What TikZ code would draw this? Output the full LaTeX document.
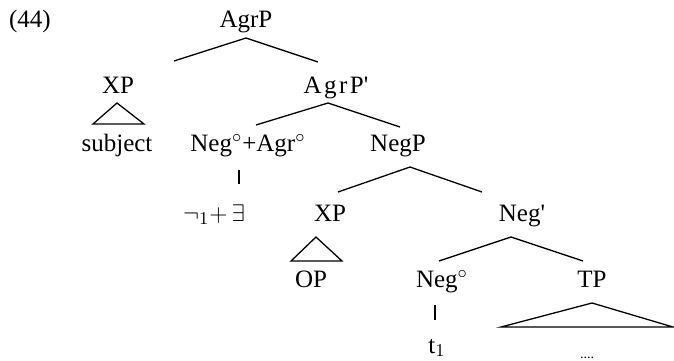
\documentclass[tikz,border=0pt]{standalone}
\usepackage{fontspec}
\setmainfont{Liberation Serif}
\usetikzlibrary{calc}

\begin{document}
\begin{tikzpicture}[x=0.5pt,y=-0.5pt,
    lbl/.style={anchor=base,inner sep=0pt,font=\fontsize{12.5}{14}\selectfont},
    branch/.style={line width=0.65pt}]
    \useasboundingbox (0,0) rectangle (674,360);

    % Place the labels of the tree
    \node[lbl] (num) at (30,27) {(44)};
    \node[lbl] (agrp) at (246,27) {AgrP};
    \node[lbl] (xpa) at (118,93) {XP};
    \node[lbl] (agrbar) at (336,93) {\addfontfeature{LetterSpace=10}AgrP\textquotesingle};
    \node[lbl] (subj) at (117,151) {subject};
    \node[lbl] (negagr) at (248,151) {Neg$^{\circ}$+Agr$^{\circ}$};
    \node[lbl] (negp) at (398,151) {NegP};
    \node[lbl] (negex) at (214,221) {$\neg_1{+}\,\exists$};
    \node[lbl] (xpb) at (330,221) {XP};
    \node[lbl] (negbar) at (522,221) {Neg\textquotesingle};
    \node[lbl] (op) at (311,287) {OP};
    \node[lbl] (neg) at (442,287) {Neg$^{\circ}$};
    \node[lbl] (tp) at (592,287) {TP};
    \node[lbl] (trace) at (437,353) {t$_1$};
    \node[lbl,font=\fontsize{7}{8}\selectfont] (dots) at (587,358) {....};

    % Define the ends of the branches
    \coordinate (agrp-t) at (246,38);
    \coordinate (agrp-l) at (174,61);
    \coordinate (agrp-r) at (318,62);
    \coordinate (agrbar-t) at (328,103);
    \coordinate (agrbar-l) at (256,125);
    \coordinate (agrbar-r) at (400,127);
    \coordinate (negp-t) at (410,167);
    \coordinate (negp-l) at (338,192);
    \coordinate (negp-r) at (482,192);
    \coordinate (negbar-t) at (511,237);
    \coordinate (negbar-l) at (439,261);
    \coordinate (negbar-r) at (583,261);
    \coordinate (negagr-a) at (239,170);
    \coordinate (negagr-b) at (239,184);
    \coordinate (neg-a) at (435,305);
    \coordinate (neg-b) at (435,320);

    % Define the corners of the triangles
    \coordinate (xpa-t) at (117,103);
    \coordinate (xpa-l) at (93,124);
    \coordinate (xpa-r) at (144,124);
    \coordinate (xpb-t) at (316,237);
    \coordinate (xpb-l) at (291,261);
    \coordinate (xpb-r) at (342,261);
    \coordinate (tp-t) at (592,303);
    \coordinate (tp-l) at (501,327);
    \coordinate (tp-r) at (673,327);

    % Draw the branches
    \draw[branch] (agrp-l) -- (agrp-t) -- (agrp-r);
    \draw[branch] (agrbar-l) -- (agrbar-t) -- (agrbar-r);
    \draw[branch] (negp-l) -- (negp-t) -- (negp-r);
    \draw[branch] (negbar-l) -- (negbar-t) -- (negbar-r);
    \draw[branch] (negagr-a) -- (negagr-b);
    \draw[branch] (neg-a) -- (neg-b);

    % Draw the triangles
    \draw[branch] (xpa-t) -- (xpa-l) -- (xpa-r) -- cycle;
    \draw[branch] (xpb-t) -- (xpb-l) -- (xpb-r) -- cycle;
    \draw[branch] (tp-t) -- (tp-l) -- (tp-r) -- cycle;

\end{tikzpicture}
\end{document}
